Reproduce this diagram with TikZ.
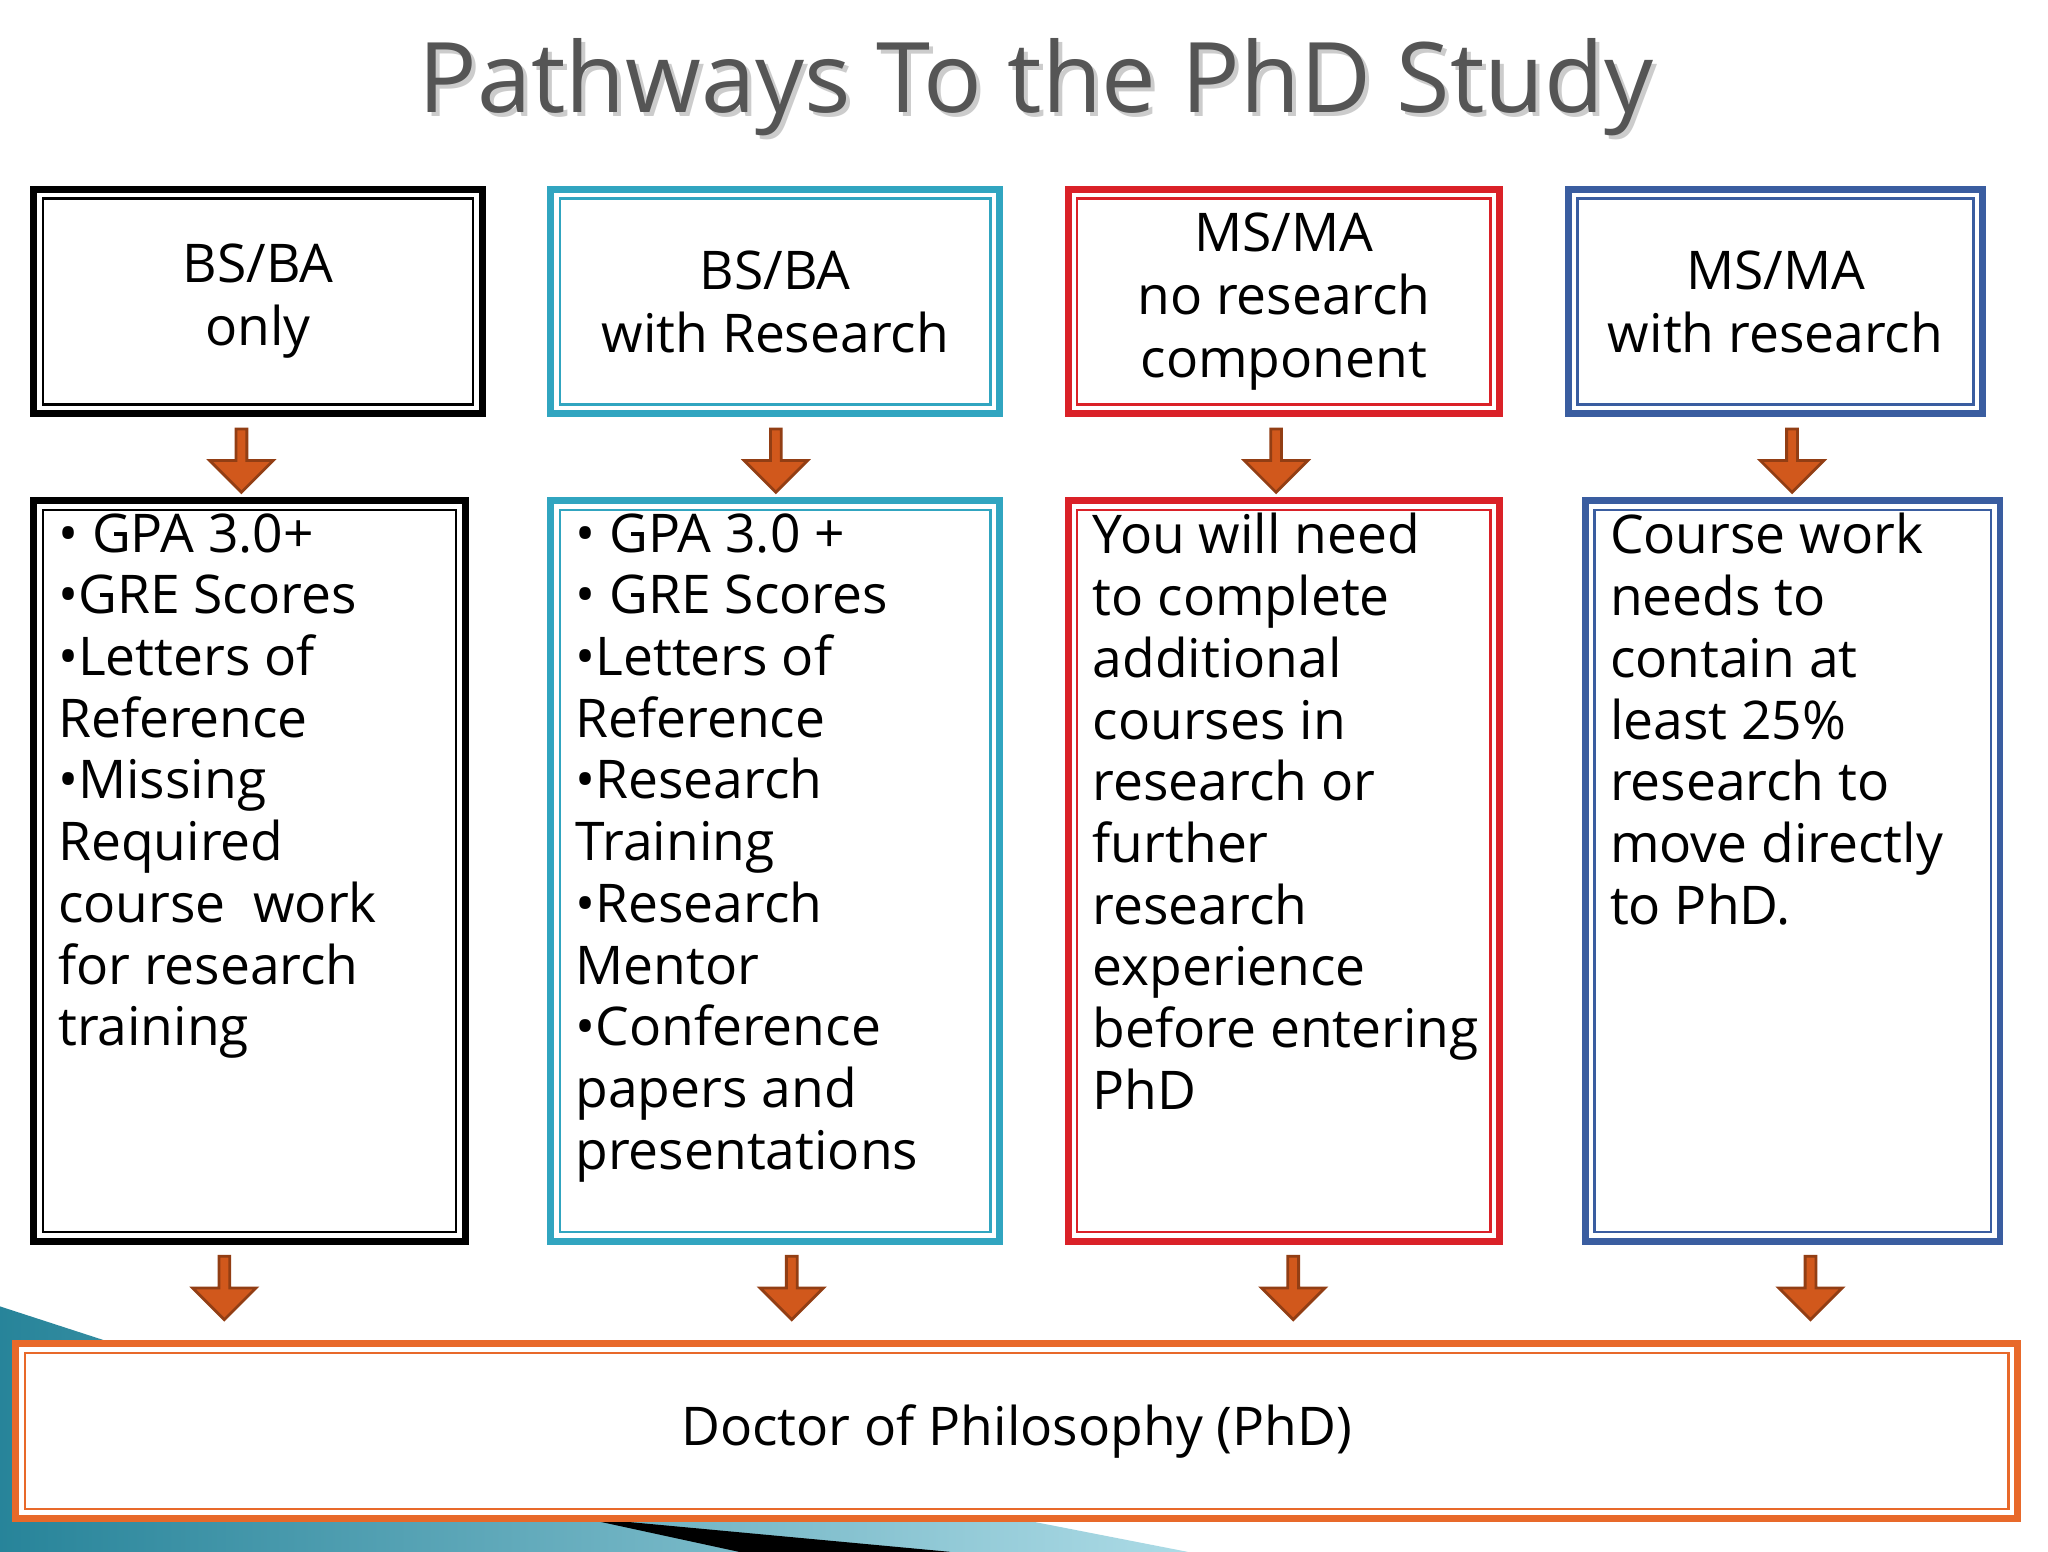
\documentclass[tikz,border=0pt]{standalone}
\usepackage{fontspec}
\setmainfont{Open Sans}
\usetikzlibrary{shapes.arrows}
\definecolor{cblack}{HTML}{000000}
\definecolor{cteal}{HTML}{31A5C0}
\definecolor{cred}{HTML}{DA2128}
\definecolor{cblue}{HTML}{3A5DA0}
\definecolor{corange}{HTML}{E8692A}
\definecolor{carrow}{HTML}{D1581C}
\definecolor{ctitle}{HTML}{555555}
\tikzset{
  frame/.style={draw=#1, line width=1.5pt, fill=white, inner sep=0pt, outer sep=0pt},
  dnarrow/.style={single arrow, draw=carrow!70!black, fill=carrow, line width=0.6pt,
    shape border rotate=270, minimum width=0.48cm, single arrow head extend=0.12cm,
    minimum height=0.48cm, inner sep=0.4pt},
  headtxt/.style={align=center, font=\fontsize{11.5}{13.6}\selectfont},
  bodytxt/.style={align=left, anchor=north west, inner sep=0pt, font=\fontsize{11.5}{13.3}\selectfont}
}
\newcommand{\inner}[2]{\draw[#2, line width=0.5pt] ([shift={(7,7)}]#1.north west) rectangle ([shift={(-7,-7)}]#1.south east);}
\begin{document}
\begin{tikzpicture}[x=0.01cm,y=-0.01cm]
\useasboundingbox (0,0) rectangle (1552,1176);
\fill[white] (0,0) rectangle (1552,1176);
% decoration
\shade[left color=cteal!80!black, right color=cteal!40] (0,990) -- (80,1016) -- (900,1176) -- (0,1176) -- cycle;
\fill[black] (440,1150) -- (720,1176) -- (560,1176) -- cycle;
% title
\node[text=gray!40, font=\fontsize{21}{24}\selectfont] at (788,69) {Pathways To the PhD Study};
\node[text=ctitle, font=\fontsize{21}{24}\selectfont] (title) at (785,66) {Pathways To the PhD Study};
% top boxes
\node[frame=cblack, minimum width=3.40cm, minimum height=1.70cm] (t1) at (195.5,228.5) {};
\node[frame=cteal, minimum width=3.40cm, minimum height=1.70cm] (t2) at (587.5,228.5) {};
\node[frame=cred, minimum width=3.27cm, minimum height=1.70cm] (t3) at (973,228.5) {};
\node[frame=cblue, minimum width=3.14cm, minimum height=1.70cm] (t4) at (1345.5,228.5) {};
\inner{t1}{cblack}\inner{t2}{cteal}\inner{t3}{cred}\inner{t4}{cblue}
\node[headtxt] at (t1) {BS/BA\\only};
\node[headtxt] at (t2) {BS/BA\\with Research};
\node[headtxt] at (t3) {MS/MA\\no research\\component};
\node[headtxt] at (t4) {MS/MA\\with research};
% middle boxes
\node[frame=cblack, minimum width=3.27cm, minimum height=5.61cm] (m1) at (189,660) {};
\node[frame=cteal, minimum width=3.40cm, minimum height=5.61cm] (m2) at (587.5,660) {};
\node[frame=cred, minimum width=3.27cm, minimum height=5.61cm] (m3) at (973,660) {};
\node[frame=cblue, minimum width=3.14cm, minimum height=5.61cm] (m4) at (1358.5,660) {};
\inner{m1}{cblack}\inner{m2}{cteal}\inner{m3}{cred}\inner{m4}{cblue}
\node[bodytxt] at ([shift={(18,9)}]m1.north west) {• GPA 3.0+\\•GRE Scores\\•Letters of\\Reference\\•Missing\\Required\\course\ \ work\\for research\\training};
\node[bodytxt] at ([shift={(18,9)}]m2.north west) {• GPA 3.0 +\\• GRE Scores\\•Letters of\\Reference\\•Research\\Training\\•Research\\Mentor\\•Conference\\papers and\\presentations};
\node[bodytxt] at ([shift={(18,9)}]m3.north west) {You will need\\to complete\\additional\\courses in\\research or\\further\\research\\experience\\before entering\\PhD};
\node[bodytxt] at ([shift={(18,9)}]m4.north west) {Course work\\needs to\\contain at\\least 25\%\\research to\\move directly\\to PhD.};
% bottom box
\node[frame=corange, minimum width=15.16cm, minimum height=1.32cm] (phd) at (770.5,1084.5) {};
\inner{phd}{corange}
\node[headtxt] at (phd) {Doctor of Philosophy (PhD)};
% arrows
\node[dnarrow] (u1) at (183,347) {};
\node[dnarrow] (u2) at (588,347) {};
\node[dnarrow] (u3) at (967,347) {};
\node[dnarrow] (u4) at (1358,347) {};
\node[dnarrow] (d1) at (170,974) {};
\node[dnarrow] (d2) at (600,974) {};
\node[dnarrow] (d3) at (980,974) {};
\node[dnarrow] (d4) at (1372,974) {};
\end{tikzpicture}
\end{document}
